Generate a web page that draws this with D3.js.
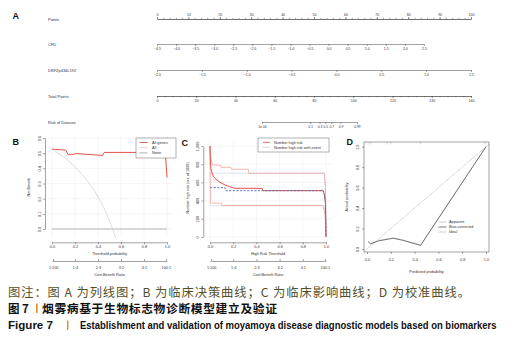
<!DOCTYPE html>
<html>
<head>
<meta charset="utf-8">
<script src="https://d3js.org/d3.v7.min.js"></script>
<style>
  body { margin: 0; background: #fff; }
  text { font-family: "Liberation Sans", Arial, sans-serif; }
</style>
</head>
<body>
<div id="chart"></div>
<script>
// ---------- data ----------
// A: nomogram
const nomoLabels = ["Points", "CFD", "DKFZp434L192", "Total Points", "Risk of Disease"];
const pointsTicks = [0, 10, 20, 30, 40, 50, 60, 70, 80, 90, 100];
const cfdTicks = [-4.5, -4, -3.5, -3, -2.5, -2, -1.5, -1, -0.5, 0, 0.5, 1, 1.5, 2, 2.5];
const dkfzTicks = [-2, -1.5, -1, -0.5, 0, 0.5, 1, 1.5];
const totalTicks = [0, 20, 40, 60, 80, 100, 120, 140, 160];
const riskTicks = [0.0001, 0.1, 0.3, 0.5, 0.7, 0.9, 0.99];
const riskLabels = ["1e-04", "0.1", "0.3", "0.5", "0.7", "0.9", "0.99"];
const riskPointRange = [53.5, 101.9];   // total points where risk = 1e-04 and 0.99
const cfdPointRange = [0, 85];          // points at cfd -4.5 and 2.5

// B: decision curve
const dcaT     = [0, 0.12, 0.14, 0.17, 0.21, 0.44, 0.455, 0.985, 1.0];
const dcaModel = [0.527, 0.52, 0.49, 0.49, 0.497, 0.485, 0.505, 0.505, 0.34];
const allT  = [0, 0.05, 0.1, 0.15, 0.2, 0.25, 0.3, 0.35, 0.4, 0.45, 0.5, 0.55, 0.57];
const allNB = [0.527, 0.502, 0.474, 0.444, 0.409, 0.369, 0.324, 0.272, 0.212, 0.14, 0.054, -0.051, -0.1];
const netBenefitTicks = [0, 0.1, 0.2, 0.3, 0.4, 0.5, 0.6];

// C: clinical impact curve
const riskT = [0, 0.004, 0.014, 0.03, 0.06, 0.086, 0.13, 0.17, 0.215, 0.45, 0.455, 0.975, 0.985, 0.995, 1.0];
const riskN = [1000, 790, 718, 663, 626, 601, 571, 553, 535, 535, 509, 509, 470, 380, 0];
const riskUpT = [0, 0.005, 0.02, 0.09, 0.095, 0.18, 0.185, 0.33, 0.335, 0.985, 0.995, 1.0];
const riskUpN = [1000, 880, 790, 790, 766, 766, 744, 744, 700, 700, 560, 0];
const riskLoT = [0, 0.004, 0.1, 0.105, 0.97, 0.985, 0.995, 1.0];
const riskLoN = [1000, 372, 372, 346, 346, 300, 200, 0];
const eventT = [0, 0.13, 0.135, 0.975, 0.985, 0.995, 1.0];
const eventN = [542, 542, 509, 509, 470, 380, 0];
const eventUpT = [0, 0.985, 0.995, 1.0];
const eventUpN = [702, 702, 560, 0];
const eventLoT = [0, 0.985, 0.995, 1.0];
const eventLoN = [343, 343, 250, 0];
const numberTicks = [0, 200, 400, 600, 800, 1000];

const thresholdTicks = [0, 0.2, 0.4, 0.6, 0.8, 1.0];
const costBenefitAt = [0.01, 0.2, 0.4, 0.6, 0.8, 0.99];
const costBenefitLabels = ["1:100", "1:4", "2:3", "3:2", "4:1", "100:1"];

// D: calibration
const calX        = [0.01, 0.03, 0.1, 0.22, 0.3, 0.45, 1.0];
const calBias     = [0.07, 0.05, 0.08, 0.105, 0.085, 0.035, 1.0];
const calApparent = [0.075, 0.056, 0.085, 0.11, 0.09, 0.04, 1.0];
const rugX = [0.01, 0.03, 0.17, 0.2, 0.45, 0.99];
const probTicks = [0, 0.2, 0.4, 0.6, 0.8, 1.0];

// ---------- helpers ----------
const svg = d3.select("#chart").append("svg")
    .attr("width", 511).attr("height", 342);

const fs = 3.8;
function styleAxis(g, size) {
    g.attr("font-family", null).attr("font-size", null);
    g.selectAll("path, line").attr("stroke", "#444").attr("stroke-width", 0.5);
    g.selectAll("text").attr("font-size", size || fs).attr("fill", "#333");
}
function rotateLabels(g, off) {
    g.selectAll("text")
        .attr("transform", "rotate(-90)")
        .attr("x", 0).attr("y", off).attr("dy", 0)
        .attr("text-anchor", "middle");
}
function panelLabel(t, x, y) {
    svg.append("text").attr("x", x).attr("y", y).text(t)
        .attr("font-size", 9).attr("font-weight", "bold").attr("fill", "#111");
}
function vtitle(t, x, y) {
    svg.append("text").attr("transform", `translate(${x},${y}) rotate(-90)`)
        .attr("text-anchor", "middle").attr("font-size", fs).attr("fill", "#333").text(t);
}
function htitle(t, x, y) {
    svg.append("text").attr("x", x).attr("y", y)
        .attr("text-anchor", "middle").attr("font-size", fs).attr("fill", "#333").text(t);
}
const pairs = (xs, ys) => xs.map((v, i) => [v, ys[i]]);

// ---------- A: nomogram ----------
panelLabel("A", 12.5, 19);
const rowY = [19, 44, 70, 96, 122];
nomoLabels.forEach((l, i) => {
    svg.append("text").attr("x", 48).attr("y", rowY[i] + 1.5)
        .attr("font-size", 4).attr("fill", "#333").text(l);
});

const xPts = d3.scaleLinear().domain([0, 100]).range([157, 471]);
const xCfd = d3.scaleLinear().domain([cfdTicks[0], cfdTicks[cfdTicks.length - 1]])
    .range(cfdPointRange.map(xPts));
const xDkfz = d3.scaleLinear().domain([-2, 1.5]).range([157, 471]);
const xTotal = d3.scaleLinear().domain([0, 160]).range([157, 471]);
const logit = p => Math.log(p / (1 - p));
const xRisk = d3.scaleLinear()
    .domain([logit(riskTicks[0]), logit(riskTicks[riskTicks.length - 1])])
    .range(riskPointRange.map(xTotal));

let g = svg.append("g").attr("transform", `translate(0,${rowY[0]})`)
    .call(d3.axisTop(xPts).tickValues(pointsTicks).tickSize(2).tickPadding(1).tickSizeOuter(0));
styleAxis(g, 3.5);
g = svg.append("g").attr("transform", `translate(0,${rowY[0]})`)
    .call(d3.axisTop(xPts).tickValues(d3.range(0, 101, 2)).tickFormat("").tickSize(1.2).tickSizeOuter(0));
styleAxis(g);

g = svg.append("g").attr("transform", `translate(0,${rowY[1]})`)
    .call(d3.axisBottom(xCfd).tickValues(cfdTicks).tickSize(2).tickPadding(2).tickSizeOuter(0));
styleAxis(g, 3.5);

g = svg.append("g").attr("transform", `translate(0,${rowY[2]})`)
    .call(d3.axisBottom(xDkfz).tickValues(dkfzTicks).tickSize(2).tickPadding(2).tickSizeOuter(0));
styleAxis(g, 3.5);

g = svg.append("g").attr("transform", `translate(0,${rowY[3]})`)
    .call(d3.axisBottom(xTotal).tickValues(totalTicks).tickSize(2).tickPadding(2).tickSizeOuter(0));
styleAxis(g, 3.5);
g = svg.append("g").attr("transform", `translate(0,${rowY[3]})`)
    .call(d3.axisBottom(xTotal).tickValues(d3.range(0, 161, 4)).tickFormat("").tickSize(1.2).tickSizeOuter(0));
styleAxis(g);

g = svg.append("g").attr("transform", `translate(0,${rowY[4]})`)
    .call(d3.axisBottom(xRisk).tickValues(riskTicks.map(logit))
        .tickFormat((d, i) => riskLabels[i]).tickSize(2).tickPadding(2).tickSizeOuter(0));
styleAxis(g, 3.3);

// ---------- B: decision curve ----------
panelLabel("B", 12.5, 145);
const xB = d3.scaleLinear().domain([0, 1]).range([52, 167]);
const yB = d3.scaleLinear().domain([0, 0.6]).range([229, 138]);
const gridB = svg.append("g").attr("stroke", "#ebebeb").attr("stroke-width", 0.5);
gridB.selectAll(".v").data(thresholdTicks).join("line")
    .attr("x1", d => xB(d)).attr("x2", d => xB(d)).attr("y1", 135).attr("y2", 238);
gridB.selectAll(".h").data(netBenefitTicks).join("line")
    .attr("y1", d => yB(d)).attr("y2", d => yB(d)).attr("x1", 47).attr("x2", 172);

svg.append("clipPath").attr("id", "clipB").append("rect")
    .attr("x", 46).attr("y", 135).attr("width", 126).attr("height", 103);
const lineB = d3.line().x(d => xB(d[0])).y(d => yB(d[1]));
const plotB = svg.append("g").attr("clip-path", "url(#clipB)").attr("fill", "none");
plotB.append("path").attr("d", lineB([[0, 0], [1, 0]])).attr("stroke", "#a6a6a6").attr("stroke-width", 0.8);
plotB.append("path").attr("d", lineB.curve(d3.curveMonotoneX)(pairs(allT, allNB)))
    .attr("stroke", "#d2d2d2").attr("stroke-width", 0.8);
lineB.curve(d3.curveLinear);
plotB.append("path").attr("d", lineB(pairs(dcaT, dcaModel)))
    .attr("stroke", "#e5534b").attr("stroke-width", 1);

g = svg.append("g").attr("transform", "translate(45,0)")
    .call(d3.axisLeft(yB).tickValues(netBenefitTicks).tickFormat(d3.format(".1f")).tickSize(2).tickSizeOuter(0));
styleAxis(g); rotateLabels(g, -4);
g = svg.append("g").attr("transform", "translate(0,242.3)")
    .call(d3.axisBottom(xB).tickValues(thresholdTicks).tickFormat(d3.format(".1f")).tickSize(2).tickPadding(1.5).tickSizeOuter(0));
styleAxis(g);
g = svg.append("g").attr("transform", "translate(0,261)")
    .call(d3.axisBottom(xB).tickValues(costBenefitAt).tickFormat((d, i) => costBenefitLabels[i]).tickSize(-2).tickPadding(5.5).tickSizeOuter(0));
styleAxis(g);
htitle("Threshold probability", 109.5, 254.6);
htitle("Cost:Benefit Ratio", 109.5, 275.5);
vtitle("Net Benefit", 29.5, 187);

// legend B
const legB = svg.append("g");
legB.append("rect").attr("x", 136).attr("y", 138).attr("width", 40).attr("height", 20)
    .attr("fill", "#fff").attr("stroke", "#666").attr("stroke-width", 0.5);
[["All genes", "#e5534b"], ["All", "#d2d2d2"], ["None", "#a6a6a6"]].forEach((e, i) => {
    const y = 142.5 + i * 5.2;
    legB.append("line").attr("x1", 139.5).attr("x2", 147.5).attr("y1", y).attr("y2", y)
        .attr("stroke", e[1]).attr("stroke-width", 0.9);
    legB.append("text").attr("x", 152).attr("y", y + 1.3).attr("font-size", fs).attr("fill", "#333").text(e[0]);
});

// ---------- C: clinical impact ----------
panelLabel("C", 181.5, 145.5);
const xC = d3.scaleLinear().domain([0, 1]).range([210, 326]);
const yC = d3.scaleLinear().domain([0, 1000]).range([237, 146]);
const gridC = svg.append("g").attr("stroke", "#ebebeb").attr("stroke-width", 0.5);
gridC.selectAll(".v").data(thresholdTicks).join("line")
    .attr("x1", d => xC(d)).attr("x2", d => xC(d)).attr("y1", 141).attr("y2", 240);
gridC.selectAll(".h").data(numberTicks).join("line")
    .attr("y1", d => yC(d)).attr("y2", d => yC(d)).attr("x1", 204).attr("x2", 332);

const lineC = d3.line().x(d => xC(d[0])).y(d => yC(d[1]));
const plotC = svg.append("g").attr("fill", "none");
plotC.append("path").attr("d", lineC(pairs(eventUpT, eventUpN)))
    .attr("stroke", "#a4b3e0").attr("stroke-width", 0.8).attr("stroke-dasharray", "0.8,0.8");
plotC.append("path").attr("d", lineC(pairs(eventLoT, eventLoN)))
    .attr("stroke", "#a4b3e0").attr("stroke-width", 0.8).attr("stroke-dasharray", "0.8,0.8");
plotC.append("path").attr("d", lineC(pairs(riskUpT, riskUpN)))
    .attr("stroke", "#f2a39d").attr("stroke-width", 0.8);
plotC.append("path").attr("d", lineC(pairs(riskLoT, riskLoN)))
    .attr("stroke", "#f2a39d").attr("stroke-width", 0.8);
plotC.append("path").attr("d", lineC(pairs(riskT, riskN)))
    .attr("stroke", "#e5534b").attr("stroke-width", 1);
plotC.append("path").attr("d", lineC(pairs(eventT, eventN)))
    .attr("stroke", "#4d6cb8").attr("stroke-width", 0.9).attr("stroke-dasharray", "2.2,1.4");

g = svg.append("g").attr("transform", "translate(203.3,0)")
    .call(d3.axisLeft(yC).tickValues(numberTicks).tickSize(2).tickSizeOuter(0));
styleAxis(g); rotateLabels(g, -4);
g = svg.append("g").attr("transform", "translate(0,242.3)")
    .call(d3.axisBottom(xC).tickValues(thresholdTicks).tickFormat(d3.format(".1f")).tickSize(2).tickPadding(1.5).tickSizeOuter(0));
styleAxis(g);
g = svg.append("g").attr("transform", "translate(0,261)")
    .call(d3.axisBottom(xC).tickValues(costBenefitAt).tickFormat((d, i) => costBenefitLabels[i]).tickSize(-2).tickPadding(5.5).tickSizeOuter(0));
styleAxis(g);
htitle("High Risk Threshold", 268, 254.6);
htitle("Cost:Benefit Ratio", 268, 275.5);
vtitle("Number high risk (out of 1000)", 188.5, 188);

const legC = svg.append("g");
legC.append("rect").attr("x", 258).attr("y", 138).attr("width", 71).attr("height", 14)
    .attr("fill", "#fff").attr("stroke", "#666").attr("stroke-width", 0.5);
legC.append("line").attr("x1", 263).attr("x2", 270).attr("y1", 142.3).attr("y2", 142.3)
    .attr("stroke", "#e5534b").attr("stroke-width", 0.9);
legC.append("line").attr("x1", 263).attr("x2", 270).attr("y1", 147.3).attr("y2", 147.3)
    .attr("stroke", "#a4b3e0").attr("stroke-width", 0.9).attr("stroke-dasharray", "0.8,0.8");
legC.append("text").attr("x", 274).attr("y", 143.6).attr("font-size", fs).attr("fill", "#333").text("Number high risk");
legC.append("text").attr("x", 274).attr("y", 148.6).attr("font-size", fs).attr("fill", "#333").text("Number high risk with event");

// ---------- D: calibration ----------
panelLabel("D", 346.5, 144.5);
const xD = d3.scaleLinear().domain([0, 1]).range([367, 486]);
const yD = d3.scaleLinear().domain([0, 1]).range([249, 146.7]);
svg.append("clipPath").attr("id", "clipD").append("rect")
    .attr("x", 364).attr("y", 142).attr("width", 125).attr("height", 110);
const lineD = d3.line().x(d => xD(d[0])).y(d => yD(d[1]));
const plotD = svg.append("g").attr("clip-path", "url(#clipD)").attr("fill", "none");
plotD.append("path").attr("d", lineD([[-0.05, -0.05], [1.06, 1.06]]))
    .attr("stroke", "#8a8a8a").attr("stroke-width", 0.6).attr("stroke-dasharray", "0.8,0.8");
plotD.append("path").attr("d", lineD(pairs(calX, calApparent)))
    .attr("stroke", "#c4c4c4").attr("stroke-width", 0.6);
plotD.append("path").attr("d", lineD(pairs(calX, calBias)))
    .attr("stroke", "#555").attr("stroke-width", 0.8);
plotD.selectAll(".rug").data(rugX).join("line")
    .attr("x1", d => xD(d)).attr("x2", d => xD(d)).attr("y1", 142).attr("y2", 144.5)
    .attr("stroke", "#bbb").attr("stroke-width", 0.5);
svg.append("rect").attr("x", 364).attr("y", 142).attr("width", 125).attr("height", 110)
    .attr("fill", "none").attr("stroke", "#444").attr("stroke-width", 0.5);

g = svg.append("g").attr("transform", "translate(364,0)")
    .call(d3.axisLeft(yD).tickValues(probTicks).tickFormat(d3.format(".1f")).tickSize(2).tickSizeOuter(0));
styleAxis(g); rotateLabels(g, -5.5); g.select(".domain").remove();
g = svg.append("g").attr("transform", "translate(0,252)")
    .call(d3.axisBottom(xD).tickValues(probTicks).tickFormat(d3.format(".1f")).tickSize(2).tickPadding(4).tickSizeOuter(0));
styleAxis(g); g.select(".domain").remove();
htitle("Predicted probability", 426.5, 272.5);
vtitle("Actual probability", 347.5, 197);

[["Apparent", "#c4c4c4", null], ["Bias-corrected", "#555", null], ["Ideal", "#8a8a8a", "0.8,0.8"]].forEach((e, i) => {
    const y = 222 + i * 5;
    svg.append("line").attr("x1", 438.5).attr("x2", 446.5).attr("y1", y).attr("y2", y)
        .attr("stroke", e[1]).attr("stroke-width", 0.8).attr("stroke-dasharray", e[2]);
    svg.append("text").attr("x", 449).attr("y", y + 1.3).attr("font-size", fs).attr("fill", "#333").text(e[0]);
});

// ---------- captions ----------
const cjk = "'Noto Sans CJK SC', sans-serif";
// squeeze a text horizontally so it spans exactly w pixels
function fitText(sel, x, y, w) {
    const n = sel.node().getComputedTextLength();
    sel.attr("x", 0).attr("y", 0)
        .attr("transform", `translate(${x},${y}) scale(${w / n},1)`);
}
svg.append("text").attr("x", 8).attr("y", 296.5)
    .style("font-family", cjk).attr("font-size", 12.3).attr("fill", "#544f2b")
    .attr("textLength", 462).attr("lengthAdjust", "spacing")
    .text("图注：图 A 为列线图；B 为临床决策曲线；C 为临床影响曲线；D 为校准曲线。");
svg.append("text").attr("x", 8).attr("y", 313)
    .style("font-family", cjk).attr("font-size", 11.5).attr("font-weight", "bold").attr("fill", "#111")
    .text("图 7");
svg.append("rect").attr("x", 36).attr("y", 303.5).attr("width", 1.6).attr("height", 9.5).attr("fill", "#e8891d");
svg.append("text").attr("x", 42).attr("y", 313)
    .style("font-family", cjk).attr("font-size", 11.8).attr("font-weight", "bold").attr("fill", "#111")
    .attr("textLength", 235).attr("lengthAdjust", "spacing")
    .text("烟雾病基于生物标志物诊断模型建立及验证");
let t = svg.append("text")
    .attr("font-size", 10.5).attr("font-weight", "bold").attr("fill", "#111")
    .text("Figure 7");
fitText(t, 8, 329, 45);
svg.append("rect").attr("x", 67).attr("y", 320.5).attr("width", 1.4).attr("height", 9.5).attr("fill", "#e8891d");
t = svg.append("text")
    .attr("font-size", 10.5).attr("font-weight", "bold").attr("fill", "#111")
    .text("Establishment and validation of moyamoya disease diagnostic models based on biomarkers");
fitText(t, 80, 329, 417);
</script>
</body>
</html>
